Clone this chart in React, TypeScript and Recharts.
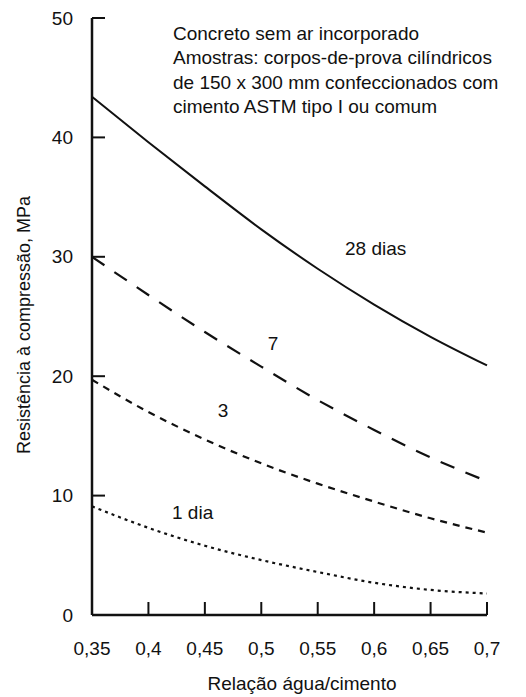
import { LineChart, Line, XAxis, YAxis } from "recharts";

// Relação água/cimento (eixo x)
const waterCement = [0.35, 0.4, 0.45, 0.5, 0.55, 0.6, 0.65, 0.7];

// Resistência à compressão (MPa), por idade
const dias28 = [43.4, 39.6, 35.9, 32.3, 29.0, 26.0, 23.3, 20.9];
const dias7 = [30.0, 26.8, 23.7, 20.8, 18.0, 15.5, 13.2, 11.2];
const dias3 = [19.7, 17.0, 14.7, 12.7, 11.0, 9.5, 8.1, 6.9];
const dias1 = [9.1, 7.3, 5.8, 4.6, 3.6, 2.7, 2.1, 1.8];

const xTicks = [0.35, 0.4, 0.45, 0.5, 0.55, 0.6, 0.65, 0.7];
const yTicks = [0, 10, 20, 30, 40, 50];

const notes = [
  "Concreto sem ar incorporado",
  "Amostras: corpos-de-prova cilíndricos",
  "de 150 x 300 mm confeccionados com",
  "cimento ASTM tipo I ou comum",
];

const data = waterCement.map((x, i) => ({
  x,
  d28: dias28[i],
  d7: dias7[i],
  d3: dias3[i],
  d1: dias1[i],
}));

const FONT = "'Liberation Sans', Arial, sans-serif";
const INK = "#111";

// ticks point inward, labels sit outside
const XTick = (props: any) => {
  const { x, y, payload } = props;
  return (
    <g>
      {payload.value !== 0.35 && (
        <line x1={x} x2={x} y1={y} y2={y - 13} stroke={INK} strokeWidth={2} />
      )}
      <text x={x} y={y + 33} dy="0.35em" textAnchor="middle" fontSize={19} fill={INK}>
        {String(payload.value).replace(".", ",")}
      </text>
    </g>
  );
};

const YTick = (props: any) => {
  const { x, y, payload } = props;
  return (
    <g>
      {payload.value !== 0 && (
        <line x1={x} x2={x + 13} y1={y} y2={y} stroke={INK} strokeWidth={2} />
      )}
      <text x={x - 19} y={y} dy="0.35em" textAnchor="end" fontSize={19} fill={INK}>
        {payload.value}
      </text>
    </g>
  );
};

export default function App() {
  return (
    <div style={{ position: "absolute", left: 0, top: 0, background: "#fff" }}>
      <LineChart
        width={526}
        height={697}
        data={data}
        margin={{ top: 18, right: 39, bottom: 0, left: 0 }}
        style={{ fontFamily: FONT }}
      >
        <XAxis
          dataKey="x"
          type="number"
          domain={[0.35, 0.7]}
          ticks={xTicks}
          height={82}
          tickSize={0}
          tickMargin={0}
          tick={XTick}
          tickLine={false}
          axisLine={{ stroke: INK, strokeWidth: 2.5 }}
        />
        <YAxis
          type="number"
          domain={[0, 50]}
          ticks={yTicks}
          width={92}
          tickSize={0}
          tickMargin={0}
          tick={YTick}
          tickLine={false}
          axisLine={{ stroke: INK, strokeWidth: 2.5 }}
        />
        <Line
          type="monotone"
          dataKey="d28"
          stroke={INK}
          strokeWidth={2}
          dot={false}
          isAnimationActive={false}
        />
        <Line
          type="monotone"
          dataKey="d7"
          stroke={INK}
          strokeWidth={2.2}
          strokeDasharray="15 12"
          dot={false}
          isAnimationActive={false}
        />
        <Line
          type="monotone"
          dataKey="d3"
          stroke={INK}
          strokeWidth={2.2}
          strokeDasharray="7 6"
          dot={false}
          isAnimationActive={false}
        />
        <Line
          type="monotone"
          dataKey="d1"
          stroke={INK}
          strokeWidth={2.2}
          strokeDasharray="3 4"
          dot={false}
          isAnimationActive={false}
        />
        <text x={173} y={33} fontSize={19} fill={INK} fontFamily={FONT}>
          {notes.map((line, i) => (
            <tspan key={i} x={173} dy={i === 0 ? "0.35em" : 24.5}>
              {line}
            </tspan>
          ))}
        </text>
        <text
          x={24}
          y={325}
          dy="0.35em"
          textAnchor="middle"
          transform="rotate(-90 24 325)"
          fontSize={18}
          fill={INK}
          fontFamily={FONT}
        >
          Resistência à compressão, MPa
        </text>
        <text x={302} y={683} dy="0.35em" textAnchor="middle" fontSize={19} fill={INK} fontFamily={FONT}>
          Relação água/cimento
        </text>
        <text x={345} y={248} dy="0.35em" fontSize={19} fill={INK} fontFamily={FONT}>
          28 dias
        </text>
        <text x={273} y={343} dy="0.35em" textAnchor="middle" fontSize={19} fill={INK} fontFamily={FONT}>
          7
        </text>
        <text x={223} y={410} dy="0.35em" textAnchor="middle" fontSize={19} fill={INK} fontFamily={FONT}>
          3
        </text>
        <text x={172} y={512} dy="0.35em" fontSize={19} fill={INK} fontFamily={FONT}>
          1 dia
        </text>
      </LineChart>
    </div>
  );
}
